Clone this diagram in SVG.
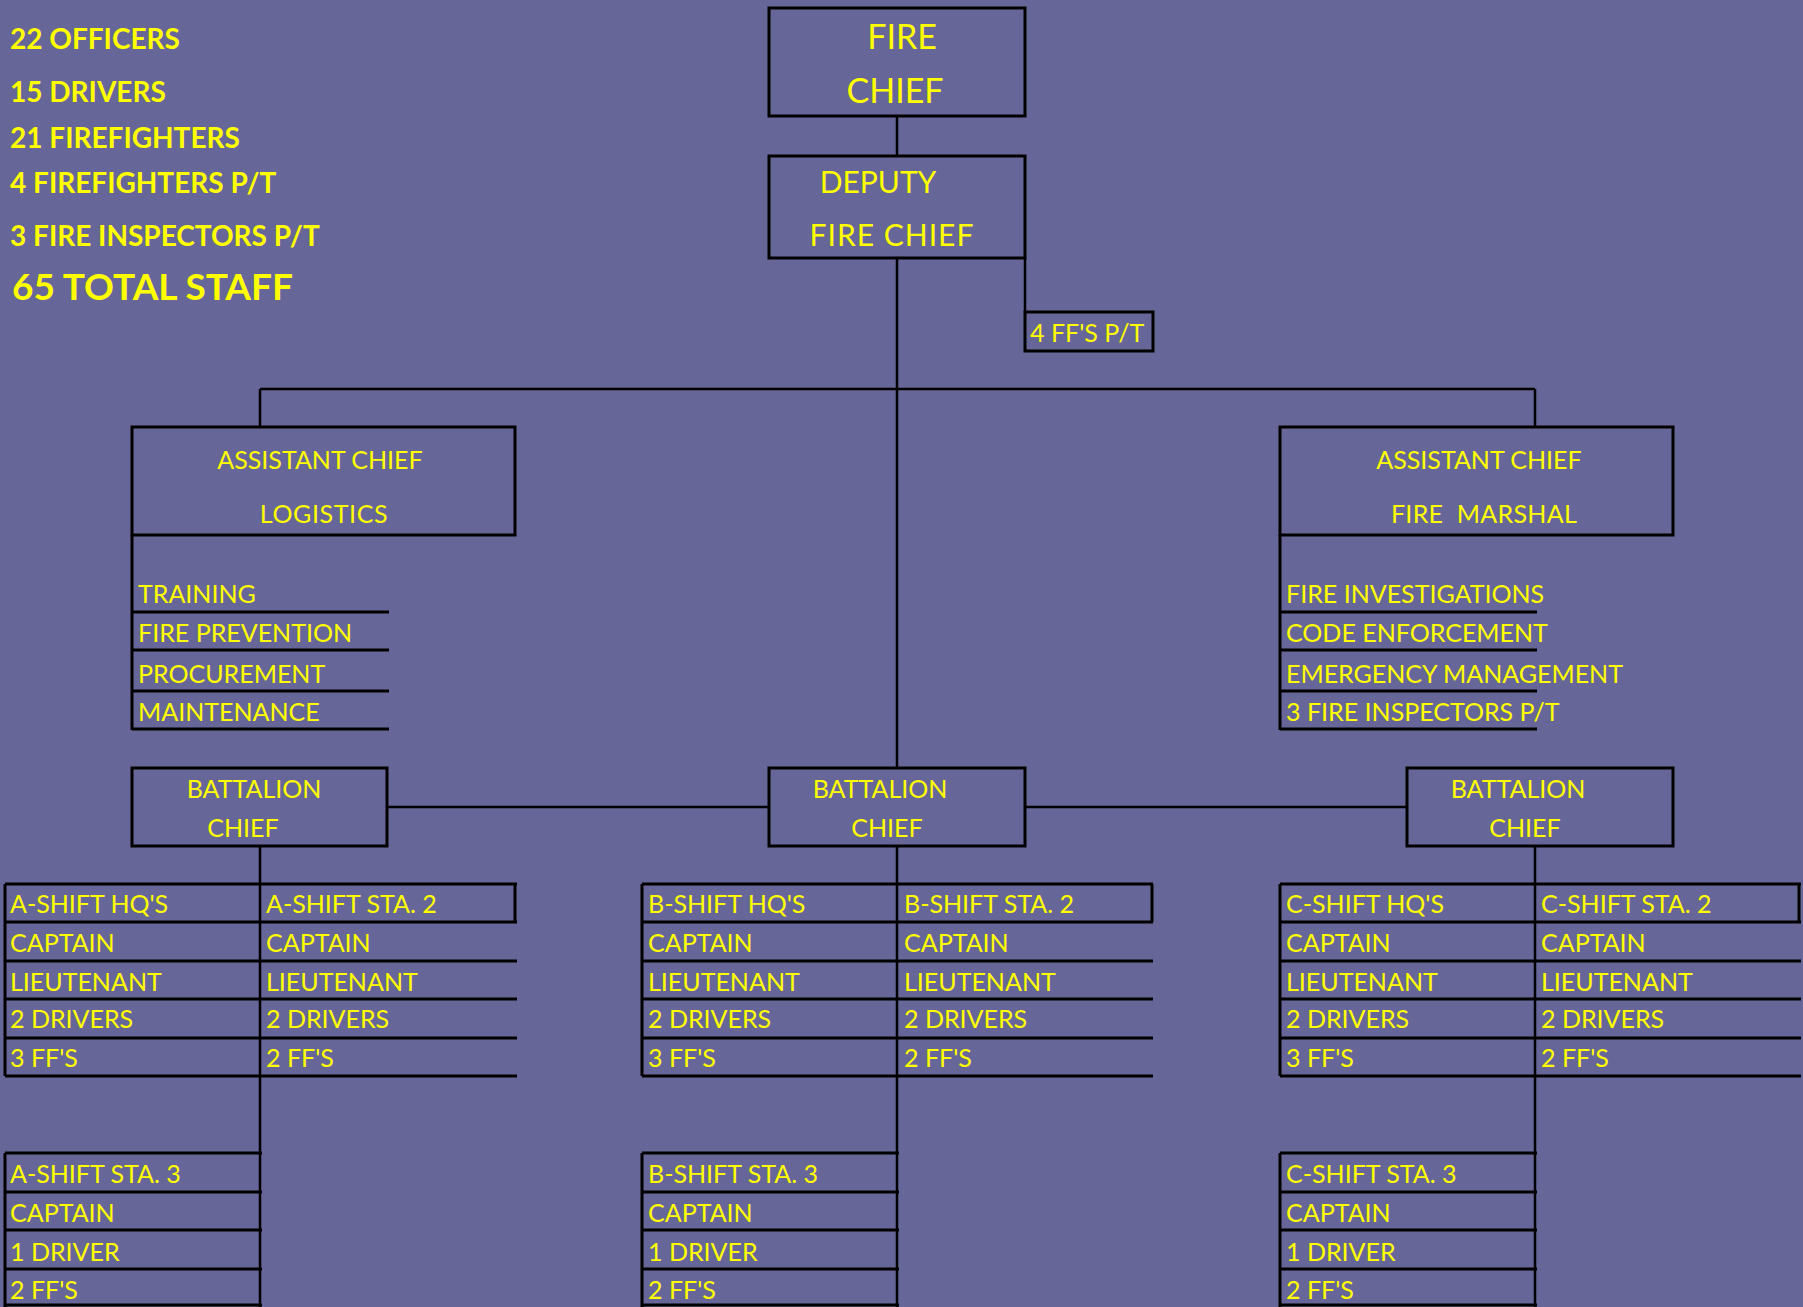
<svg xmlns="http://www.w3.org/2000/svg" width="1803" height="1307" viewBox="0 0 1803 1307">
<style>
.bg{fill:#666699}
.box{fill:none;stroke:#000;stroke-width:3}
.ln{fill:none;stroke:#000;stroke-width:3}
.cn{fill:none;stroke:#000;stroke-width:2.5}
text{font-family:Lato,"Liberation Sans",sans-serif;fill:#ffff00}
.s{font-weight:bold;font-size:28px}
.big{font-weight:bold;font-size:37px}
.c{text-anchor:middle}
.t{font-size:25px}
.h1{font-size:34px}
.h2{font-size:30px}
.h3{font-size:25px}
</style>
<rect class="bg" x="0" y="0" width="1803" height="1307"/>

<g id="stats">
<text class="s" x="10" y="49">22 OFFICERS</text>
<text class="s" x="10" y="102">15 DRIVERS</text>
<text class="s" x="10" y="148">21 FIREFIGHTERS</text>
<text class="s" x="10" y="193">4 FIREFIGHTERS P/T</text>
<text class="s" x="10" y="246">3 FIRE INSPECTORS P/T</text>
<text class="big" x="12" y="300">65 TOTAL STAFF</text>
</g>

<g id="connectors">
<path class="cn" d="M897 116V156"/>
<path class="cn" d="M897 258V768"/>
<path class="cn" d="M1025 258V312"/>
<path class="cn" d="M260 389H1535"/>
<path class="cn" d="M260 389V427"/>
<path class="cn" d="M1535 389V427"/>
<path class="cn" d="M387 807H769"/>
<path class="cn" d="M1025 807H1407"/>
<path class="cn" d="M260 846V1307"/>
<path class="cn" d="M897 846V1307"/>
<path class="cn" d="M1535 846V1307"/>
</g>

<g id="fire-chief">
<rect class="box" x="769" y="8" width="256" height="108"/>
<text class="h1 c" x="902" y="49">FIRE</text>
<text class="h1 c" x="895" y="103">CHIEF</text>
</g>

<g id="deputy-fire-chief">
<rect class="box" x="769" y="156" width="256" height="102"/>
<text class="h2 c" x="878" y="193">DEPUTY</text>
<text class="h2 c" x="892" y="246" letter-spacing="1">FIRE CHIEF</text>
</g>

<g id="pt-ff">
<rect class="box" x="1025" y="312" width="128" height="39"/>
<text class="h3" x="1030" y="342">4 FF'S P/T</text>
</g>

<g id="asst-logistics">
<rect class="box" x="132" y="427" width="383" height="108"/>
<text class="h3 c" x="320" y="469">ASSISTANT CHIEF</text>
<text class="h3 c" x="324" y="523" letter-spacing="0.6">LOGISTICS</text>
<path class="ln" d="M132 535V730M132 612H389M132 650H389M132 691H389M132 729H389"/>
<text class="t" x="138" y="603">TRAINING</text>
<text class="t" x="138" y="642">FIRE PREVENTION</text>
<text class="t" x="138" y="683">PROCUREMENT</text>
<text class="t" x="138" y="721">MAINTENANCE</text>
</g>

<g id="asst-fire-marshal">
<rect class="box" x="1280" y="427" width="393" height="108"/>
<text class="h3 c" x="1479" y="469">ASSISTANT CHIEF</text>
<text class="h3 c" x="1484" y="523" xml:space="preserve" letter-spacing="0.3">FIRE  MARSHAL</text>
<path class="ln" d="M1280 535V730M1280 612H1537M1280 650H1537M1280 691H1537M1280 729H1537"/>
<text class="t" x="1286" y="603">FIRE INVESTIGATIONS</text>
<text class="t" x="1286" y="642">CODE ENFORCEMENT</text>
<text class="t" x="1286" y="683">EMERGENCY MANAGEMENT</text>
<text class="t" x="1286" y="721">3 FIRE INSPECTORS P/T</text>
</g>

<g id="battalion-a">
<rect class="box" x="132" y="768" width="255" height="78"/>
<text class="h3 c" x="254" y="798">BATTALION</text>
<text class="h3 c" x="243" y="837">CHIEF</text>
</g>
<g id="battalion-b">
<rect class="box" x="769" y="768" width="256" height="78"/>
<text class="h3 c" x="880" y="798">BATTALION</text>
<text class="h3 c" x="887" y="837">CHIEF</text>
</g>
<g id="battalion-c">
<rect class="box" x="1407" y="768" width="266" height="78"/>
<text class="h3 c" x="1518" y="798">BATTALION</text>
<text class="h3 c" x="1525" y="837">CHIEF</text>
</g>

<g id="a-shift">
<path class="ln" d="M5 884H517M5 922H517M5 961H517M5 999H517M5 1038H517M5 1076H517M5 884V1076M515 884V922"/>
<text class="t" x="10" y="913">A-SHIFT HQ'S</text>
<text class="t" x="10" y="952">CAPTAIN</text>
<text class="t" x="10" y="991">LIEUTENANT</text>
<text class="t" x="10" y="1028">2 DRIVERS</text>
<text class="t" x="10" y="1067">3 FF'S</text>
<text class="t" x="266" y="913">A-SHIFT STA. 2</text>
<text class="t" x="266" y="952">CAPTAIN</text>
<text class="t" x="266" y="991">LIEUTENANT</text>
<text class="t" x="266" y="1028">2 DRIVERS</text>
<text class="t" x="266" y="1067">2 FF'S</text>
</g>
<g id="b-shift">
<path class="ln" d="M642 884H1153M642 922H1153M642 961H1153M642 999H1153M642 1038H1153M642 1076H1153M642 884V1076M1152 884V922"/>
<text class="t" x="648" y="913">B-SHIFT HQ'S</text>
<text class="t" x="648" y="952">CAPTAIN</text>
<text class="t" x="648" y="991">LIEUTENANT</text>
<text class="t" x="648" y="1028">2 DRIVERS</text>
<text class="t" x="648" y="1067">3 FF'S</text>
<text class="t" x="904" y="913">B-SHIFT STA. 2</text>
<text class="t" x="904" y="952">CAPTAIN</text>
<text class="t" x="904" y="991">LIEUTENANT</text>
<text class="t" x="904" y="1028">2 DRIVERS</text>
<text class="t" x="904" y="1067">2 FF'S</text>
</g>
<g id="c-shift">
<path class="ln" d="M1280 884H1801M1280 922H1801M1280 961H1801M1280 999H1801M1280 1038H1801M1280 1076H1801M1280 884V1076M1799 884V922"/>
<text class="t" x="1286" y="913">C-SHIFT HQ'S</text>
<text class="t" x="1286" y="952">CAPTAIN</text>
<text class="t" x="1286" y="991">LIEUTENANT</text>
<text class="t" x="1286" y="1028">2 DRIVERS</text>
<text class="t" x="1286" y="1067">3 FF'S</text>
<text class="t" x="1541" y="913">C-SHIFT STA. 2</text>
<text class="t" x="1541" y="952">CAPTAIN</text>
<text class="t" x="1541" y="991">LIEUTENANT</text>
<text class="t" x="1541" y="1028">2 DRIVERS</text>
<text class="t" x="1541" y="1067">2 FF'S</text>
</g>

<g id="a-shift-sta3">
<path class="ln" d="M5 1153H262M5 1192H262M5 1230H262M5 1269H262M5 1305H262M5 1153V1307"/>
<text class="t" x="10" y="1183">A-SHIFT STA. 3</text>
<text class="t" x="10" y="1222">CAPTAIN</text>
<text class="t" x="10" y="1261">1 DRIVER</text>
<text class="t" x="10" y="1299">2 FF'S</text>
</g>
<g id="b-shift-sta3">
<path class="ln" d="M642 1153H899M642 1192H899M642 1230H899M642 1269H899M642 1305H899M642 1153V1307"/>
<text class="t" x="648" y="1183">B-SHIFT STA. 3</text>
<text class="t" x="648" y="1222">CAPTAIN</text>
<text class="t" x="648" y="1261">1 DRIVER</text>
<text class="t" x="648" y="1299">2 FF'S</text>
</g>
<g id="c-shift-sta3">
<path class="ln" d="M1280 1153H1537M1280 1192H1537M1280 1230H1537M1280 1269H1537M1280 1305H1537M1280 1153V1307"/>
<text class="t" x="1286" y="1183">C-SHIFT STA. 3</text>
<text class="t" x="1286" y="1222">CAPTAIN</text>
<text class="t" x="1286" y="1261">1 DRIVER</text>
<text class="t" x="1286" y="1299">2 FF'S</text>
</g>
</svg>
